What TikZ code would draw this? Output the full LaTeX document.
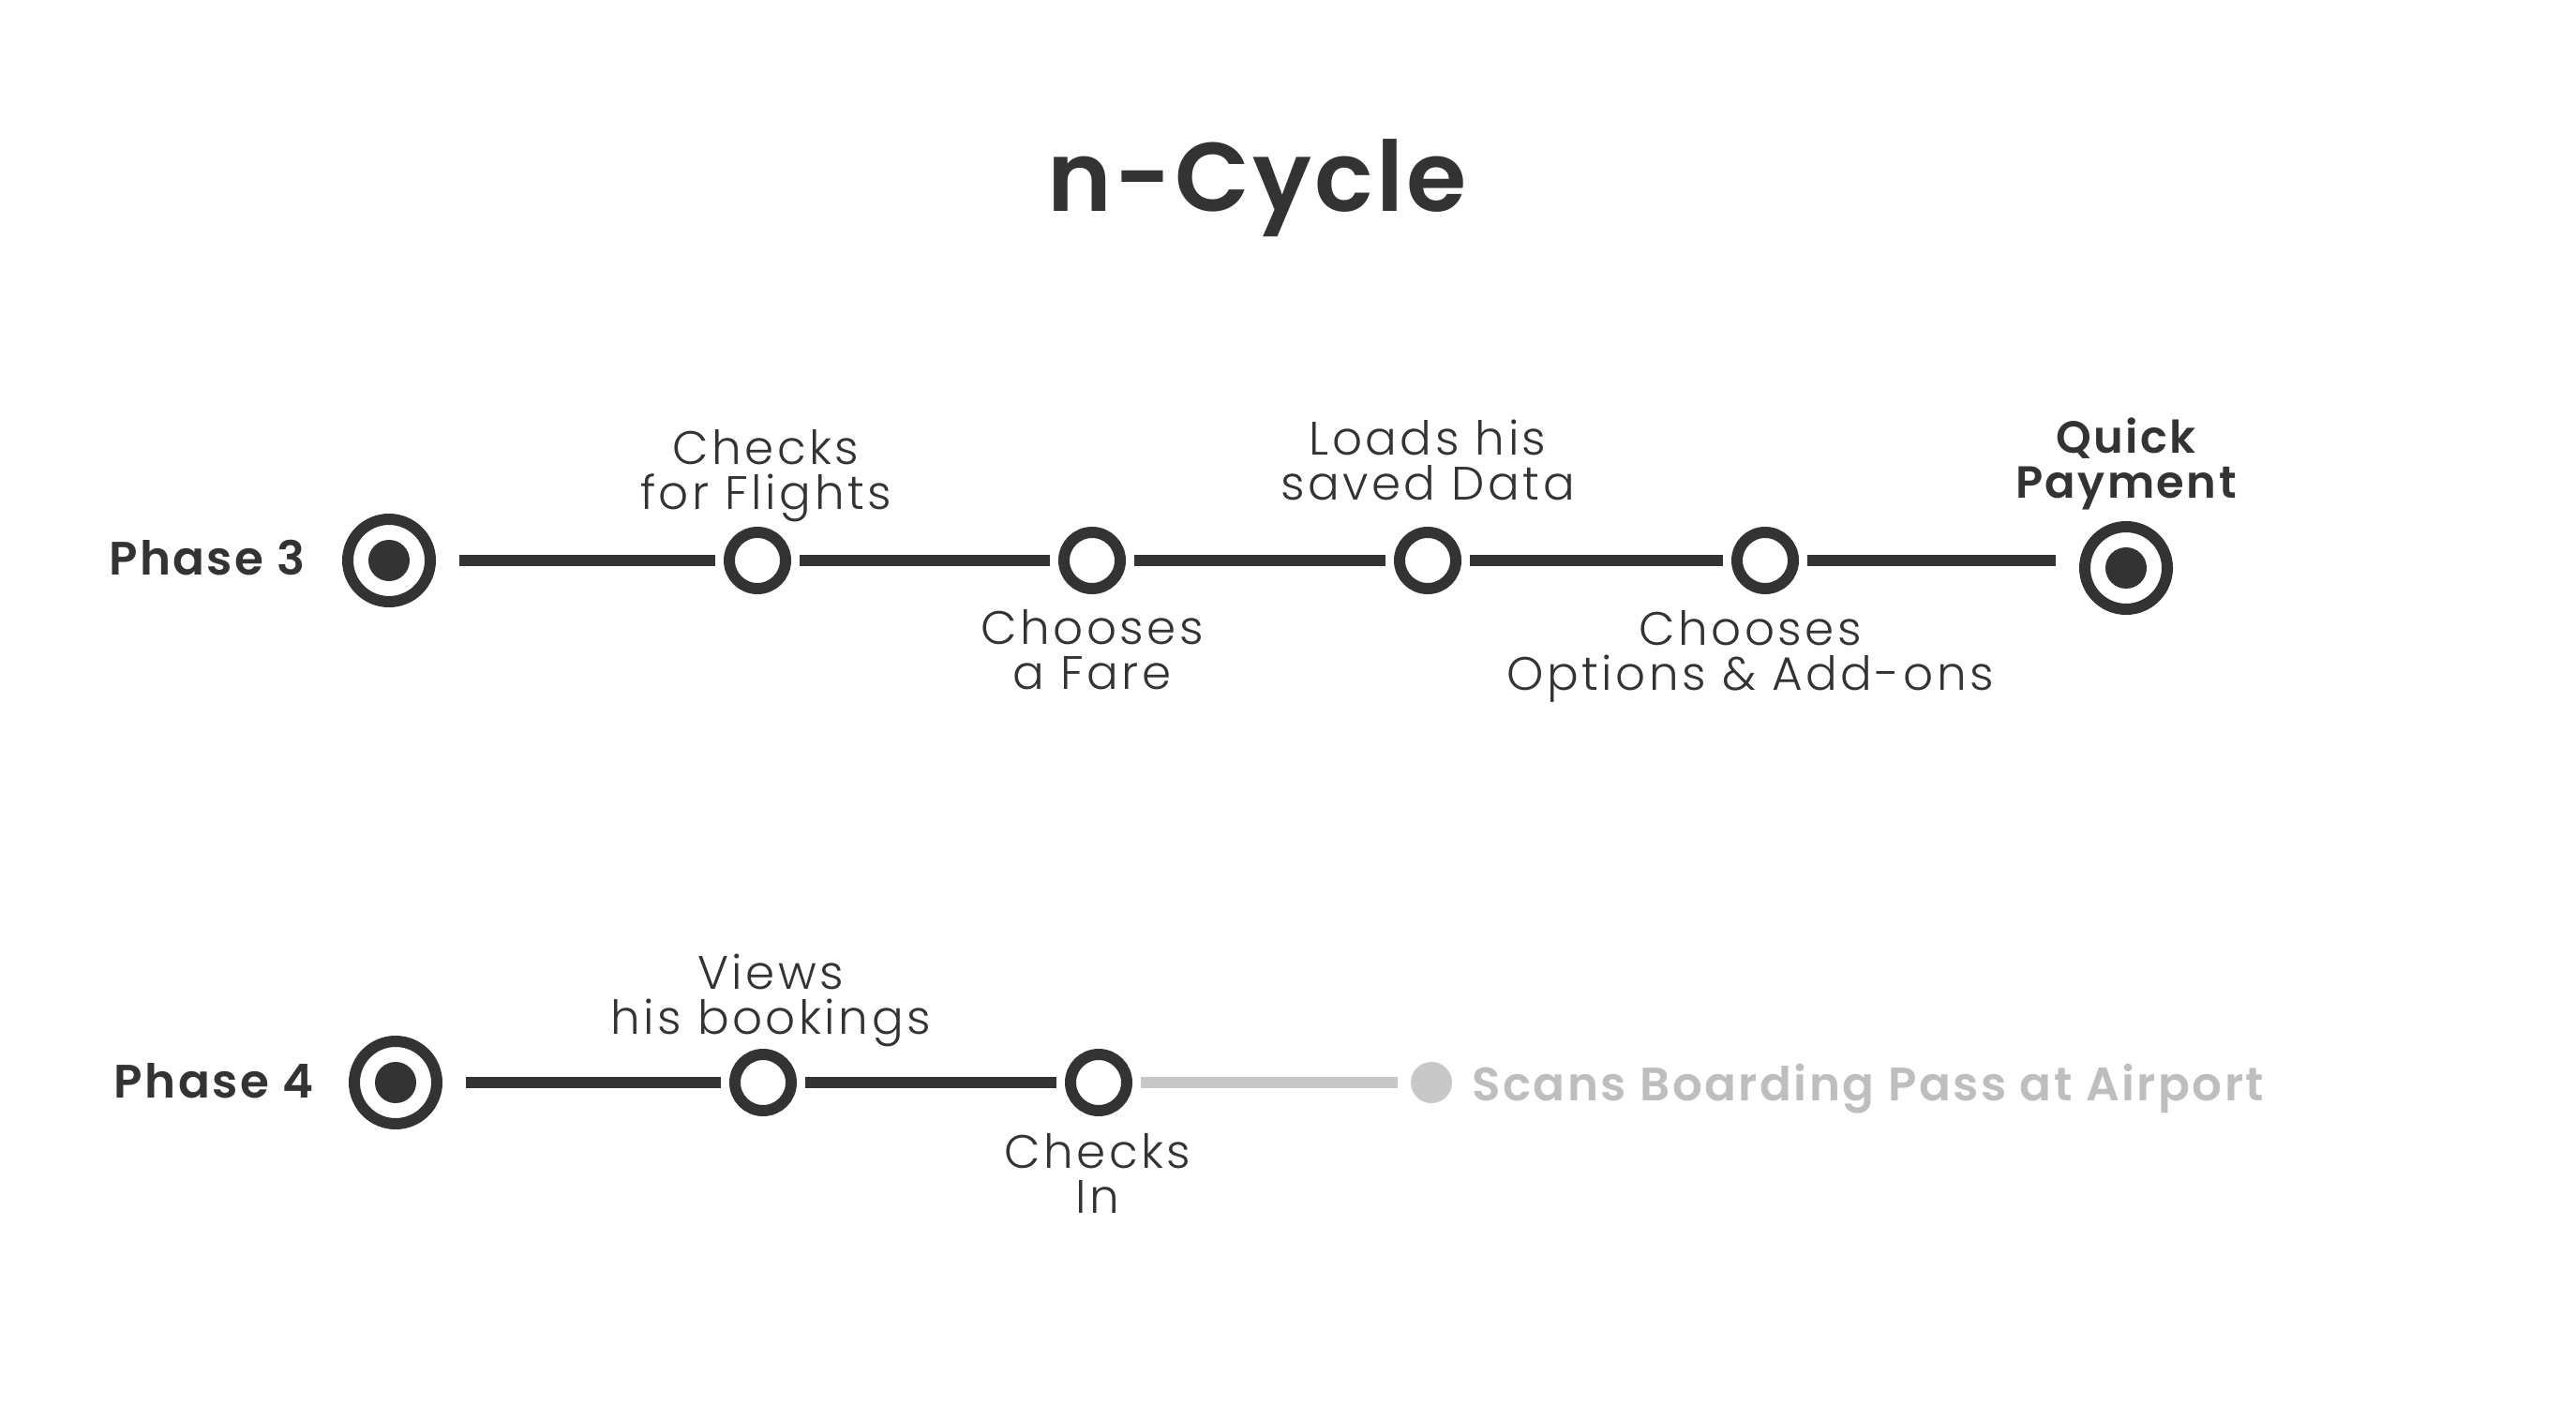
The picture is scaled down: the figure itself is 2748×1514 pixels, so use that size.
\documentclass[tikz,border=0pt]{standalone}
\usepackage{fontspec}
\setmainfont{Poppins}
\IfFontExistsTF{Poppins Light}{\newfontfamily\lightfont{Poppins Light}[LetterSpace=7]}{\newfontfamily\lightfont{Poppins}[LetterSpace=7]}
\IfFontExistsTF{Poppins SemiBold}{%
  \newfontfamily\boldlab{Poppins SemiBold}[LetterSpace=5]%
  \newfontfamily\graybold{Poppins SemiBold}[LetterSpace=5]%
  \newfontfamily\titlefont{Poppins SemiBold}[LetterSpace=3]%
}{%
  \newfontfamily\boldlab{Poppins Bold}[LetterSpace=4]%
  \newfontfamily\graybold{Poppins Bold}[LetterSpace=4]%
  \newfontfamily\titlefont{Poppins Bold}[LetterSpace=2]%
}
\definecolor{dk}{HTML}{333333}
\definecolor{lg}{HTML}{C8C8C8}
\definecolor{lgt}{HTML}{BEBEBE}
\tikzset{
  bigring/.style={circle, draw=dk, line width=12pt, minimum size=88pt, inner sep=0pt, outer sep=31pt, fill=white,
    path picture={\fill[dk] (path picture bounding box.center) circle (22pt);}},
  smallring/.style={circle, draw=dk, line width=12pt, minimum size=60pt, inner sep=0pt, outer sep=15pt, fill=white},
  graydot/.style={circle, fill=lg, minimum size=44pt, inner sep=0pt, outer sep=14pt},
  conn/.style={draw=dk, line width=12pt},
  grayconn/.style={draw=lg, line width=12pt},
  lab/.style={font=\lightfont\fontsize{50}{48}\selectfont, text=dk, align=center, inner sep=0pt},
  blab/.style={font=\boldlab\fontsize{48}{48}\selectfont, text=dk, align=center, inner sep=0pt},
  phaselab/.style={font=\boldlab\fontsize{50}{50}\selectfont, text=dk, inner sep=0pt, anchor=base},
  titlelab/.style={font=\titlefont\fontsize{104}{104}\selectfont, text=dk, inner sep=0pt, anchor=base},
  graylab/.style={font=\graybold\fontsize{50}{50}\selectfont, text=lgt, inner sep=0pt, anchor=base west}
}
\begin{document}
\begin{tikzpicture}[x=1pt,y=-1pt]
\useasboundingbox (0,0) rectangle (2748,1514);
% title
\node[titlelab] (title) at (1341,226) {n-Cycle};
% phase 3
\node[phaselab] (ph3) at (221,613) {Phase 3};
\node[bigring] (p3s) at (415,598) {};
\node[smallring] (a1) at (808,598) {};
\node[smallring] (a2) at (1165,598) {};
\node[smallring] (a3) at (1523,598) {};
\node[smallring] (a4) at (1883,598) {};
\node[bigring] (p3e) at (2268,606) {};
\draw[conn] (p3s) -- (a1);
\draw[conn] (a1) -- (a2);
\draw[conn] (a2) -- (a3);
\draw[conn] (a3) -- (a4);
\draw[conn] (a4.east) -- (a4.east -| p3e.west);
\node[lab] (l1) at (817,508) {Checks\\for Flights};
\node[lab] (l2) at (1165,693) {Chooses\\a Fare};
\node[lab] (l3) at (1523,491) {Loads his\\saved Data};
\node[lab] (l4) at (1867,700) {Chooses\\Options \& Add-ons};
\node[blab] (l5) at (2268,495) {Quick\\Payment};
% phase 4
\node[phaselab] (ph4) at (228,1171) {Phase 4};
\node[bigring] (p4s) at (422,1155) {};
\node[smallring] (b1) at (814,1155) {};
\node[smallring] (b2) at (1172,1155) {};
\node[graydot] (b3) at (1527,1155) {};
\draw[conn] (p4s) -- (b1);
\draw[conn] (b1) -- (b2);
\draw[grayconn] (b2) -- (b3);
\node[lab] (m1) at (822,1067) {Views\\his bookings};
\node[lab] (m2) at (1171,1252) {Checks\\In};
\node[graylab] (m3) at (1570,1174) {Scans Boarding Pass at Airport};
\end{tikzpicture}
\end{document}
